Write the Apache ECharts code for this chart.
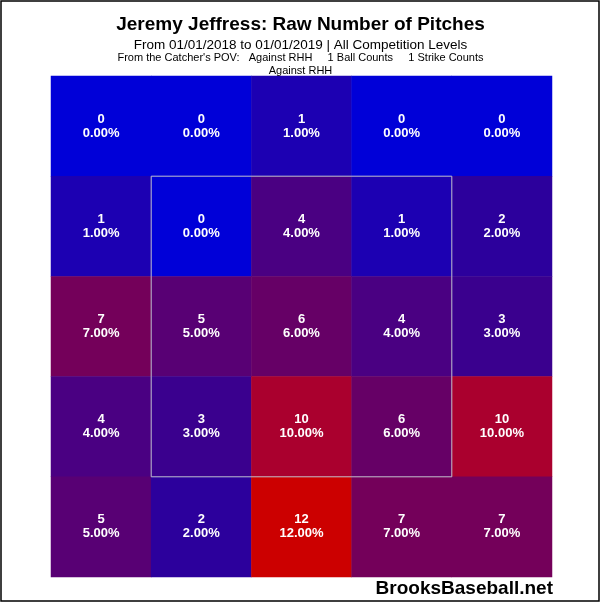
<!DOCTYPE html>
<html>
<head>
<meta charset="utf-8">
<script src="https://cdn.jsdelivr.net/npm/echarts@6/dist/echarts.min.js"></script>
<style>
  html, body { margin: 0; padding: 0; background: #fff; }
  #chart { width: 601px; height: 603px; }
</style>
</head>
<body>
<div id="chart"></div>
<script>
// zone columns (catcher's POV) and rows, top to bottom
const cols = ['c0', 'c1', 'c2', 'c3', 'c4']
const rows = ['r0', 'r1', 'r2', 'r3', 'r4']

// raw pitch counts, one array per row
const row0 = [0, 0, 1, 0, 0]
const row1 = [1, 0, 4, 1, 2]
const row2 = [7, 5, 6, 4, 3]
const row3 = [4, 3, 10, 6, 10]
const row4 = [5, 2, 12, 7, 7]
const counts = [row0, row1, row2, row3, row4]

// colour ramp for 0..12
const ramp = ['#0000d8', '#1c00b2', '#2c009c', '#3a008e', '#4a0082', '#580074',
  '#660066', '#74005a', '#82004e', '#920042', '#aa002e', '#ba001a', '#cc0000']

const titleText = 'Jeremy Jeffress: Raw Number of Pitches'
const subText = 'From 01/01/2018 to 01/01/2019 | All Competition Levels'
const infoText = 'From the Catcher\'s POV:   Against RHH     1 Ball Counts     1 Strike Counts'
const infoText2 = 'Against RHH'
const siteText = 'BrooksBaseball.net'

let total = 0
counts.forEach(r => r.forEach(v => { total += v }))

const data = []
counts.forEach((r, y) => r.forEach((v, x) => data.push([x, y, v])))

const font = 'Liberation Sans, Arial, sans-serif'

const chart = echarts.init(document.getElementById('chart'))

let option
option = {
  backgroundColor: '#fff',
  animation: false,
  title: [
    { text: titleText, left: 'center', top: 10,
      textStyle: { fontFamily: font, fontSize: 19, fontWeight: 'bold', color: '#000' } },
    { text: subText, left: 'center', top: 33,
      textStyle: { fontFamily: font, fontSize: 13.5, fontWeight: 'normal', color: '#000' } },
    { text: infoText, left: 'center', top: 47,
      textStyle: { fontFamily: font, fontSize: 11, fontWeight: 'normal', color: '#000' } },
    { text: infoText2, left: 'center', top: 60,
      textStyle: { fontFamily: font, fontSize: 11, fontWeight: 'normal', color: '#000' } }
  ],
  grid: { left: 51, top: 76, width: 501, height: 501 },
  xAxis: { type: 'category', data: cols, show: false },
  yAxis: { type: 'category', data: rows, inverse: true, show: false },
  visualMap: {
    show: false,
    min: 0,
    max: 12,
    dimension: 2,
    inRange: { color: ramp }
  },
  series: [
    {
      type: 'heatmap',
      data: data,
      itemStyle: { borderWidth: 0 },
      label: {
        show: true,
        color: '#fff',
        fontFamily: font,
        fontWeight: 'bold',
        fontSize: 13,
        lineHeight: 14,
        formatter: p => p.value[2] + '\n' + (p.value[2] / total * 100).toFixed(2) + '%'
      }
    }
  ]
}
chart.setOption(option)

// strike zone box around the inner 3x3 cells, plus frame and site mark
const a = chart.convertToPixel({ gridIndex: 0 }, [0, 0])
const b = chart.convertToPixel({ gridIndex: 0 }, [1, 1])
const cw = b[0] - a[0]
const ch = b[1] - a[1]
chart.setOption({
  graphic: [
    { type: 'rect', z: 100,
      shape: { x: b[0] - cw / 2, y: b[1] - ch / 2, width: cw * 3, height: ch * 3 },
      style: { fill: 'none', stroke: '#c0c0d0', lineWidth: 1 } },
    { type: 'rect', z: 100,
      shape: { x: 1, y: 1, width: 598, height: 600 },
      style: { fill: 'none', stroke: '#000', lineWidth: 1.5 } },
    { type: 'text', z: 100, right: 48, top: 579,
      style: { text: siteText, fill: '#000', font: 'bold 19px ' + font } }
  ]
})
</script>
</body>
</html>
